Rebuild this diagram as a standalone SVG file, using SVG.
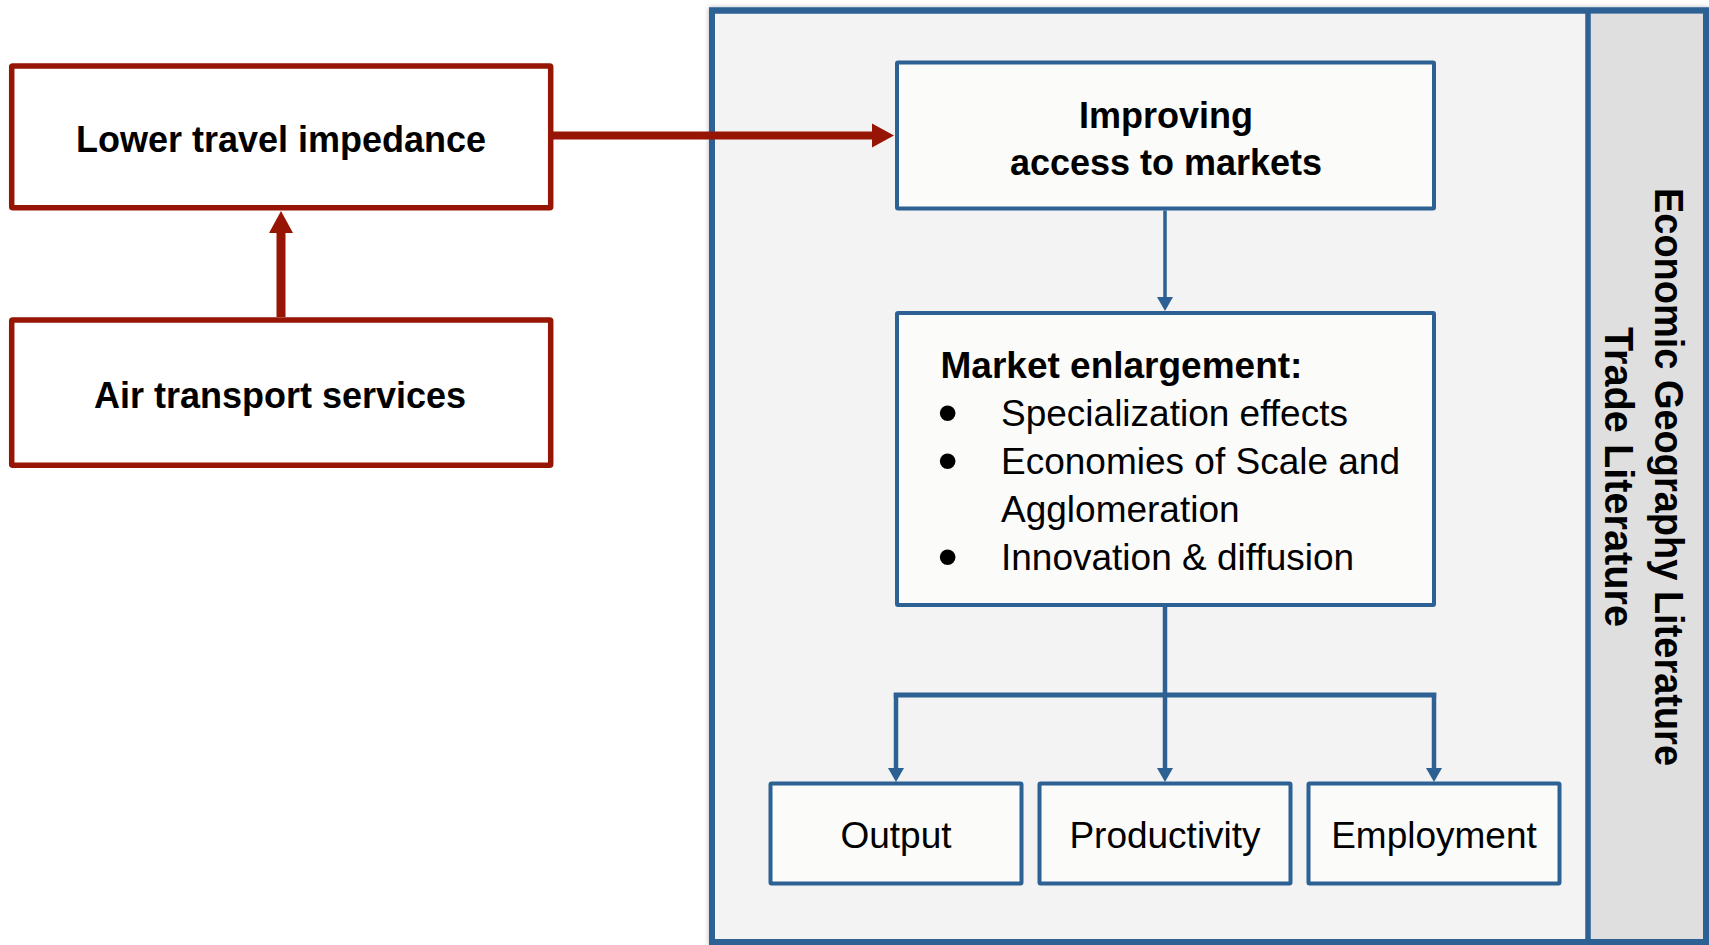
<svg xmlns="http://www.w3.org/2000/svg" width="1709" height="945" viewBox="0 0 1709 945">
  <defs>
    <style>
      .red-box { fill: #ffffff; stroke: #971505; stroke-width: 5.5; }
      .blue-box { fill: #fbfbfa; stroke: #2d6093; stroke-width: 4; }
      .red-line { fill: none; stroke: #971505; }
      .blue-line { fill: none; stroke: #2d6093; }
      .bold { font-family: "Liberation Sans", Arial, sans-serif; font-weight: bold; fill: #000; }
      .reg { font-family: "Liberation Sans", Arial, sans-serif; font-weight: normal; fill: #000; }
      .bullet { font-family: "Liberation Sans", Arial, sans-serif; font-size: 58px; fill: #000; }
    </style>
    <marker id="head-red" markerUnits="userSpaceOnUse" markerWidth="22" markerHeight="24" refX="0" refY="12" orient="auto" overflow="visible">
      <path d="M0,0 L22,12 L0,24 Z" fill="#971505"/>
    </marker>
    <marker id="head-blue" markerUnits="userSpaceOnUse" markerWidth="14" markerHeight="16" refX="0" refY="8" orient="auto" overflow="visible">
      <path d="M0,0 L14,8 L0,16 Z" fill="#2d6093"/>
    </marker>
    <filter id="soft-shadow" x="-5%" y="-5%" width="110%" height="110%">
      <feDropShadow dx="0" dy="0" stdDeviation="2.5" flood-color="#000" flood-opacity="0.3"/>
    </filter>
  </defs>

  <rect width="1709" height="945" fill="#ffffff"/>

  <!-- Literature frame with side band -->
  <g id="literature-frame">
    <rect x="712" y="10.5" width="994" height="931.5" fill="#f3f3f3" stroke="#2d6093" stroke-width="6" filter="url(#soft-shadow)"/>
    <rect x="1588" y="13.5" width="115" height="925.5" fill="#dfdfdf"/>
    <line x1="1588" y1="10.5" x2="1588" y2="942" stroke="#2d6093" stroke-width="5.5"/>
    <rect x="712" y="10.5" width="994" height="931.5" fill="none" stroke="#2d6093" stroke-width="6"/>
    <text class="bold" font-size="40" text-anchor="middle" textLength="578" lengthAdjust="spacingAndGlyphs" transform="translate(1655,477) rotate(90)">Economic Geography Literature</text>
    <text class="bold" font-size="40" text-anchor="middle" textLength="300" lengthAdjust="spacingAndGlyphs" transform="translate(1605,477) rotate(90)">Trade Literature</text>
  </g>

  <!-- Connectors -->
  <g id="connectors">
    <path class="red-line" stroke-width="9" d="M281,317 L281,233" marker-end="url(#head-red)"/>
    <path class="red-line" stroke-width="8" d="M553,135.5 L872,135.5" marker-end="url(#head-red)"/>
    <path class="blue-line" stroke-width="3.5" d="M1165,210.5 L1165,297" marker-end="url(#head-blue)"/>
    <path class="blue-line" stroke-width="4.5" d="M1165,606.5 L1165,695"/>
    <path class="blue-line" stroke-width="5" d="M893.8,695 L1436.2,695"/>
    <path class="blue-line" stroke-width="4.5" d="M896,693 L896,768" marker-end="url(#head-blue)"/>
    <path class="blue-line" stroke-width="4.5" d="M1165,693 L1165,768" marker-end="url(#head-blue)"/>
    <path class="blue-line" stroke-width="4.5" d="M1434,693 L1434,768" marker-end="url(#head-blue)"/>
  </g>

  <g id="lower-travel-impedance">
    <rect class="red-box" x="11.7" y="66" width="539" height="141.7" rx="1"/>
    <text class="bold" font-size="36" x="281" y="151.5" text-anchor="middle">Lower travel impedance</text>
  </g>

  <g id="air-transport-services">
    <rect class="red-box" x="11.7" y="320" width="539" height="145.3" rx="1"/>
    <text class="bold" font-size="36" x="280" y="408" text-anchor="middle">Air transport services</text>
  </g>

  <g id="improving-access">
    <rect class="blue-box" x="897" y="62.5" width="537" height="146" rx="1"/>
    <text class="bold" font-size="36" x="1166" y="128" text-anchor="middle">Improving</text>
    <text class="bold" font-size="36" x="1166" y="175" text-anchor="middle">access to markets</text>
  </g>

  <g id="market-enlargement">
    <rect class="blue-box" x="897" y="313" width="537" height="292" rx="1"/>
    <text class="bold" font-size="37" x="940.5" y="378">Market enlargement:</text>
    <text class="bullet" x="937.5" y="432">•</text>
    <text class="reg" font-size="37" x="1001" y="426">Specialization effects</text>
    <text class="bullet" x="937.5" y="479.5">•</text>
    <text class="reg" font-size="37" x="1001" y="473.5">Economies of Scale and</text>
    <text class="reg" font-size="37" x="1001" y="521.5">Agglomeration</text>
    <text class="bullet" x="937.5" y="575.5">•</text>
    <text class="reg" font-size="37" x="1001" y="569.5">Innovation &amp; diffusion</text>
  </g>

  <g id="output">
    <rect class="blue-box" x="770.5" y="783.5" width="251" height="100" rx="1"/>
    <text class="reg" font-size="37" x="896" y="848" text-anchor="middle">Output</text>
  </g>

  <g id="productivity">
    <rect class="blue-box" x="1039.5" y="783.5" width="251" height="100" rx="1"/>
    <text class="reg" font-size="37" x="1165" y="848" text-anchor="middle">Productivity</text>
  </g>

  <g id="employment">
    <rect class="blue-box" x="1308.5" y="783.5" width="251" height="100" rx="1"/>
    <text class="reg" font-size="37" x="1434" y="848" text-anchor="middle">Employment</text>
  </g>
</svg>
